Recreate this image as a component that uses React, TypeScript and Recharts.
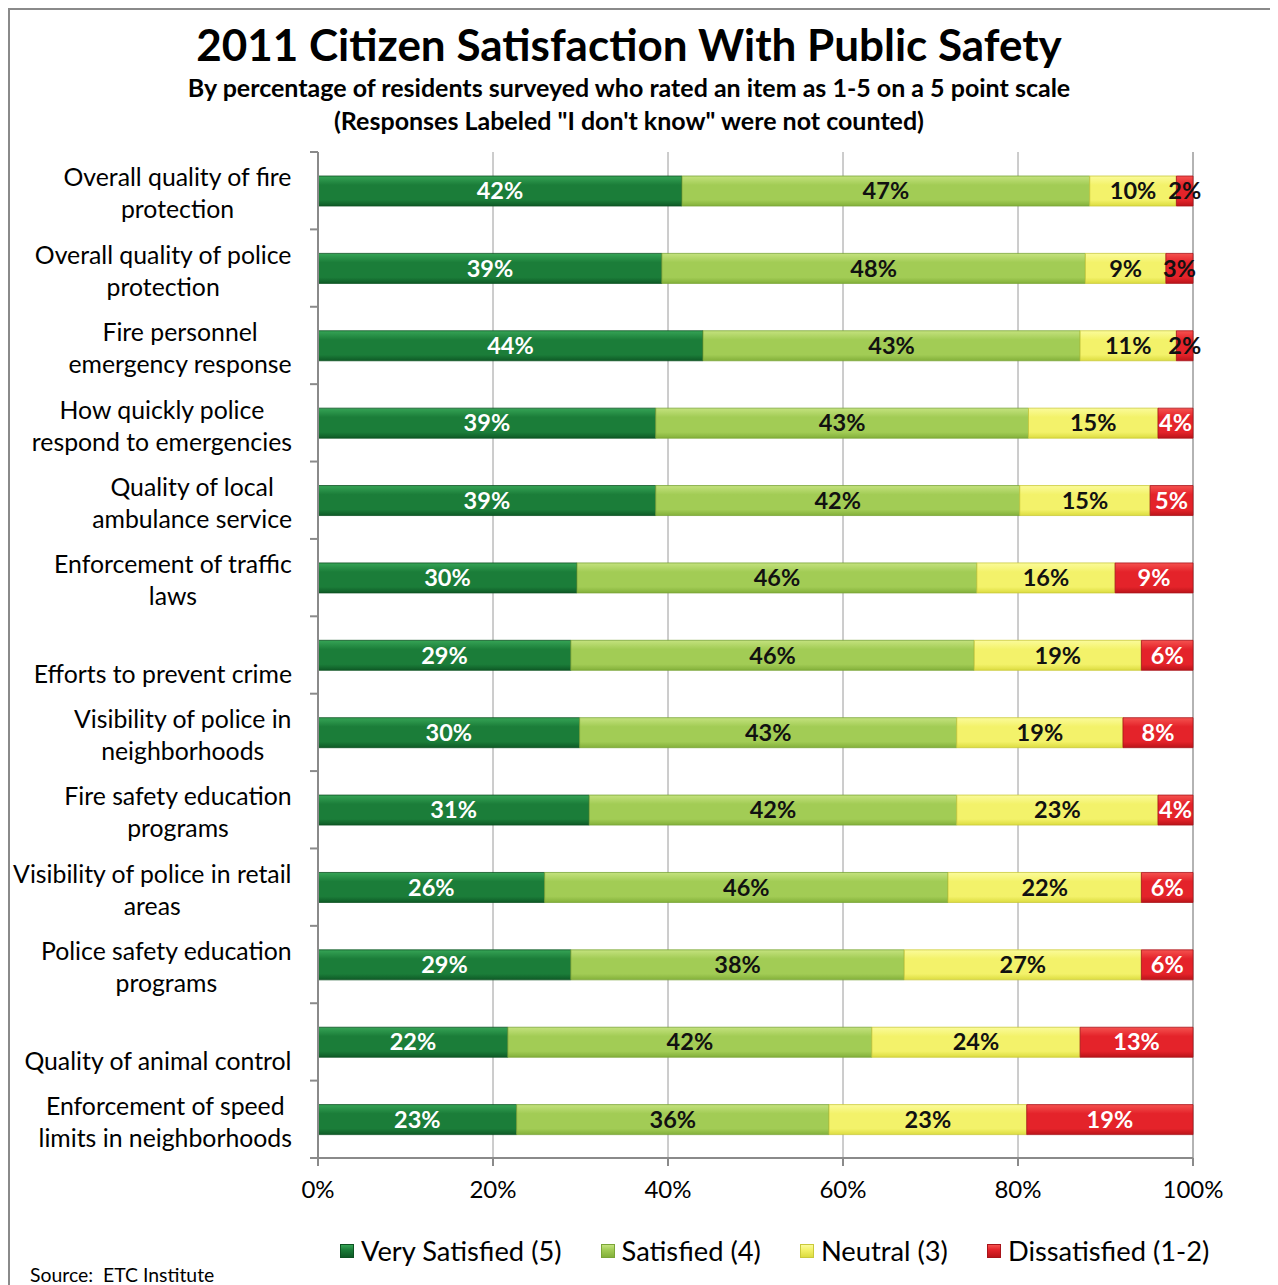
import React from 'react';
import { BarChart, Bar, XAxis, YAxis, CartesianGrid, LabelList } from 'recharts';

// category labels, split where the original wraps them ('' = label sits on the second line)
const categoryLines: string[][] = [
  ['Overall quality of fire', 'protection'],
  ['Overall quality of police', 'protection'],
  ['Fire personnel', 'emergency response'],
  ['How quickly police', 'respond to emergencies'],
  ['Quality of local', 'ambulance service'],
  ['Enforcement of traffic', 'laws'],
  ['', 'Efforts to prevent crime'],
  ['Visibility of police in', 'neighborhoods'],
  ['Fire safety education', 'programs'],
  ['Visibility of police in retail', 'areas'],
  ['Police safety education', 'programs'],
  ['', 'Quality of animal control'],
  ['Enforcement of speed', 'limits in neighborhoods'],
];

const verySatisfied = [41.6, 39.3, 44.0, 38.6, 38.6, 29.6, 28.9, 29.9, 31.0, 25.9, 28.9, 21.7, 22.7];
const satisfied = [46.6, 48.4, 43.1, 42.6, 41.6, 45.7, 46.1, 43.1, 42.0, 46.1, 38.1, 41.6, 35.7];
const neutral = [9.9, 9.2, 11.0, 14.8, 14.9, 15.8, 19.1, 19.0, 23.0, 22.1, 27.1, 23.8, 22.6];
const dissatisfied = [1.9, 3.1, 1.9, 4.0, 4.9, 8.9, 5.9, 8.0, 4.0, 5.9, 5.9, 12.9, 19.0];

const xTicks = [0, 20, 40, 60, 80, 100];
const seriesNames = ['Very Satisfied (5)', 'Satisfied (4)', 'Neutral (3)', 'Dissatisfied (1-2)'];

const FONT = 'Lato, "Open Sans", sans-serif';
const AXIS = '#8a8a8a';
const W = 1270;
const H = 1277;
const PLOT_LEFT = 310;
const PLOT_TOP = 144;
const PLOT_RIGHT = 1185;
const PLOT_BOTTOM = 1150;
const BAND = (PLOT_BOTTOM - PLOT_TOP) / categoryLines.length;
const CAT_SIZE = 24.8;
const LABEL_RIGHT = 284;

// [top, middle, bottom] shades for the bevelled bars
const SHADES = [
  ['#36a456', '#1b7d39', '#0e5a26'],
  ['#c4e27e', '#a2cc55', '#83b03a'],
  ['#fbfb9a', '#f3f26a', '#dcdc40'],
  ['#f5524f', '#e4232a', '#bb1419'],
];
const EDGE = ['#0d5222', '#7aa537', '#c9c93b', '#a8141a'];

const data = categoryLines.map((lines, i) => ({
  name: lines.filter(Boolean).join(' '),
  v5: verySatisfied[i],
  v4: satisfied[i],
  v3: neutral[i],
  v12: dissatisfied[i],
}));

let measureCtx: CanvasRenderingContext2D | null = null;
const textWidth = (s: string) => {
  if (!measureCtx) measureCtx = document.createElement('canvas').getContext('2d');
  if (!measureCtx) return s.length * CAT_SIZE * 0.5;
  measureCtx.font = `${CAT_SIZE}px Lato`;
  return measureCtx.measureText(s).width;
};

const CategoryTick = (props: any) => {
  const { y, index } = props;
  const lines = categoryLines[index];
  const top = y - BAND / 2;
  // lines are centred on each other, block right-aligned
  const widest = Math.max(...lines.map(textWidth));
  const cx = LABEL_RIGHT - widest / 2;
  return (
    <g>
      <line x1={PLOT_LEFT - 8} x2={PLOT_LEFT} y1={top} y2={top} stroke={AXIS} strokeWidth={2} />
      {index === categoryLines.length - 1 && (
        <line x1={PLOT_LEFT - 8} x2={PLOT_LEFT} y1={y + BAND / 2} y2={y + BAND / 2} stroke={AXIS} strokeWidth={2} />
      )}
      <text textAnchor="middle" fontSize={CAT_SIZE} fill="#000" fontFamily={FONT}>
        {lines[0] && <tspan x={cx} y={y - 13} dy="0.35em">{lines[0]}</tspan>}
        <tspan x={cx} y={y + 19} dy="0.35em">{lines[1]}</tspan>
      </text>
    </g>
  );
};

const PercentTick = (props: any) => {
  const { x, payload } = props;
  return (
    <text x={x} y={PLOT_BOTTOM + 32} dy="0.35em" textAnchor="middle" fontSize={24} fill="#000" fontFamily={FONT}>
      {payload.value}%
    </text>
  );
};

const makeLabel = (pickColor: (v: number) => string) => (props: any) => {
  const { x, y, width, height, value } = props;
  return (
    <text
      x={Number(x) + Number(width) / 2}
      y={Number(y) + Number(height) / 2}
      dy="0.35em"
      textAnchor="middle"
      fontSize={23.5}
      fontWeight={700}
      fill={pickColor(value)}
      fontFamily={FONT}
    >
      {Math.round(value)}%
    </text>
  );
};

const App: React.FC = () => {
  const keys = ['v5', 'v4', 'v3', 'v12'];
  const labelColors = [
    () => '#ffffff',
    () => '#111111',
    () => '#111111',
    (v: number) => (v < 3.5 ? '#111111' : '#ffffff'),
  ];
  return (
    <div style={{ position: 'relative', width: W, height: H, fontFamily: FONT, overflow: 'hidden' }}>
      <div
        style={{
          position: 'absolute', left: 0, top: 0, width: W, height: H,
          borderTop: `2px solid ${AXIS}`, borderLeft: `2px solid ${AXIS}`, boxSizing: 'border-box',
        }}
      />
      <div style={{ position: 'absolute', left: 0, width: W - 28, top: 10, textAlign: 'center', fontSize: 44, fontWeight: 700, lineHeight: '52px', color: '#000' }}>
        2011 Citizen Satisfaction With Public Safety
      </div>
      <div style={{ position: 'absolute', left: 0, width: W - 28, top: 63, textAlign: 'center', fontSize: 25, fontWeight: 700, lineHeight: '33px', color: '#000' }}>
        By percentage of residents surveyed who rated an item as 1-5 on a 5 point scale
        <br />
        (Responses Labeled "I don't know" were not counted)
      </div>

      <div style={{ position: 'absolute', left: 0, top: 0 }}>
        <BarChart
          width={W}
          height={H}
          data={data}
          layout="vertical"
          barSize={30}
          margin={{ top: PLOT_TOP, right: W - PLOT_RIGHT, left: 0, bottom: H - PLOT_BOTTOM - 50 }}
        >
          <defs>
            {SHADES.map((s, i) => (
              <linearGradient key={i} id={`shade${i}`} x1="0" y1="0" x2="0" y2="1">
                <stop offset="0%" stopColor={s[0]} />
                <stop offset="30%" stopColor={s[1]} />
                <stop offset="80%" stopColor={s[1]} />
                <stop offset="100%" stopColor={s[2]} />
              </linearGradient>
            ))}
          </defs>
          <CartesianGrid horizontal={false} stroke="#9a9a9a" strokeWidth={1} />
          <XAxis
            type="number"
            domain={[0, 100]}
            ticks={xTicks}
            height={50}
            stroke={AXIS}
            strokeWidth={2}
            tickSize={8}
            tick={<PercentTick />}
          />
          <YAxis
            type="category"
            dataKey="name"
            width={PLOT_LEFT}
            stroke={AXIS}
            strokeWidth={2}
            tickLine={false}
            interval={0}
            tick={<CategoryTick />}
          />
          {keys.map((k, i) => (
            <Bar
              key={k}
              dataKey={k}
              name={seriesNames[i]}
              stackId="s"
              fill={`url(#shade${i})`}
              stroke={EDGE[i]}
              strokeWidth={0.8}
              isAnimationActive={false}
            >
              <LabelList dataKey={k} content={makeLabel(labelColors[i])} />
            </Bar>
          ))}
        </BarChart>
      </div>

      <div
        style={{
          position: 'absolute', left: 332, top: 1226, display: 'flex', alignItems: 'center',
          gap: 39, fontSize: 27.3, color: '#000', whiteSpace: 'nowrap',
        }}
      >
        {seriesNames.map((n, i) => (
          <div key={n} style={{ display: 'flex', alignItems: 'center', gap: 7 }}>
            <span
              style={{
                display: 'inline-block', width: 14, height: 14,
                background: `linear-gradient(${SHADES[i][0]}, ${SHADES[i][1]} 40%, ${SHADES[i][2]})`,
                border: `1px solid ${EDGE[i]}`, boxSizing: 'border-box',
              }}
            />
            <span>{n}</span>
          </div>
        ))}
      </div>

      <div style={{ position: 'absolute', left: 22, top: 1255, fontSize: 19.4, color: '#000' }}>
        Source:&nbsp; ETC Institute
      </div>
    </div>
  );
};

export default App;
